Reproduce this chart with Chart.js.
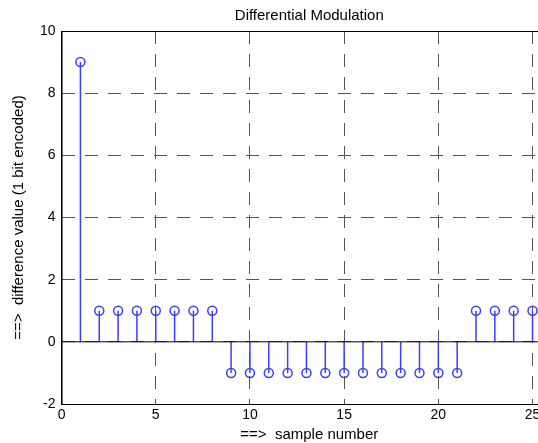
<!DOCTYPE html>
<html>
<head>
<meta charset="utf-8">
<script src="https://cdn.jsdelivr.net/npm/chart.js@4/dist/chart.umd.min.js"></script>
<style>
  html, body { margin: 0; padding: 0; background: #fff; overflow: hidden; }
  #wrap { width: 563px; height: 443px; }
</style>
</head>
<body>
<div id="wrap"><canvas id="stemChart" width="563" height="443"></canvas></div>
<script>
// amostras e valores da diferença (1 bit)
const samples = [1, 2, 3, 4, 5, 6, 7, 8, 9, 10, 11, 12, 13, 14, 15, 16, 17, 18, 19, 20, 21, 22, 23, 24, 25]
const diffValues = [9, 1, 1, 1, 1, 1, 1, 1, -1, -1, -1, -1, -1, -1, -1, -1, -1, -1, -1, -1, -1, 1, 1, 1, 1]
const xTicks = [0, 5, 10, 15, 20, 25]
const yTicks = [-2, 0, 2, 4, 6, 8, 10]
const chartTitle = "Differential Modulation"

const stemBlue = "#3d3dff"

// hastes: (x,0) -> (x,y) e uma quebra
const stemPoints = []
samples.forEach((x, i) => {
  stemPoints.push({ x: x, y: 0 }, { x: x, y: diffValues[i] }, { x: x, y: null })
})
const markerPoints = samples.map((x, i) => ({ x: x, y: diffValues[i] }))

// moldura e título centrado sobre a área do gráfico (como no MATLAB)
const framePlugin = {
  id: "frame",
  afterDraw(chart) {
    const { ctx, chartArea: a } = chart
    ctx.save()
    ctx.strokeStyle = "#000"
    ctx.lineWidth = 1
    ctx.strokeRect(a.left + 0.5, a.top + 0.5, a.right - a.left, a.bottom - a.top)
    ctx.fillStyle = "#000"
    ctx.font = "15px 'Liberation Sans'"
    ctx.textAlign = "center"
    ctx.textBaseline = "middle"
    ctx.fillText(chartTitle, (a.left + a.right) / 2, 16)
    ctx.restore()
  },
}

const ctx = document.getElementById("stemChart").getContext("2d")

const stemChart = new Chart(ctx, {
  type: "scatter",
  data: {
    datasets: [
      {
        label: "zero",
        data: [{ x: 0, y: 0 }, { x: 30, y: 0 }],
        showLine: true,
        borderColor: "#000",
        borderWidth: 1,
        pointRadius: 0,
      },
      {
        label: "stems",
        data: stemPoints,
        showLine: true,
        spanGaps: false,
        borderColor: stemBlue,
        borderWidth: 1.5,
        pointRadius: 0,
      },
      {
        label: "markers",
        data: markerPoints,
        showLine: false,
        pointStyle: "circle",
        pointRadius: 4.5,
        pointBorderWidth: 1.5,
        pointBorderColor: stemBlue,
        pointBackgroundColor: "rgba(0,0,0,0)",
      },
    ],
  },
  options: {
    responsive: false,
    animation: false,
    layout: { padding: { left: 10, right: 0, top: 31, bottom: 0 } },
    plugins: {
      legend: { display: false },
      tooltip: { enabled: false },
      title: { display: false },
    },
    scales: {
      x: {
        type: "linear",
        min: 0,
        max: 26.3,
        afterBuildTicks: (axis) => { axis.ticks = xTicks.map((v) => ({ value: v })) },
        ticks: { color: "#000", padding: 4, font: { family: "Liberation Sans", size: 14, lineHeight: 1 } },
        grid: { color: "#555", lineWidth: 1, drawTicks: false },
        border: { color: "#000", width: 1, dash: [13, 10] },
        title: {
          display: true,
          text: "==>  sample number",
          color: "#000",
          font: { family: "Liberation Sans", size: 15 },
          padding: { top: 0, bottom: -1 },
        },
      },
      y: {
        type: "linear",
        min: -2,
        max: 10,
        afterBuildTicks: (axis) => { axis.ticks = yTicks.map((v) => ({ value: v })) },
        ticks: { color: "#000", padding: 6, font: { family: "Liberation Sans", size: 14 } },
        grid: { color: "#555", lineWidth: 1, drawTicks: false },
        border: { color: "#000", width: 1, dash: [13, 10] },
        title: {
          display: true,
          text: "==>  difference value (1 bit encoded)",
          color: "#000",
          font: { family: "Liberation Sans", size: 15 },
          padding: { top: 0, bottom: 6 },
        },
      },
    },
  },
  plugins: [framePlugin],
})
</script>
</body>
</html>
